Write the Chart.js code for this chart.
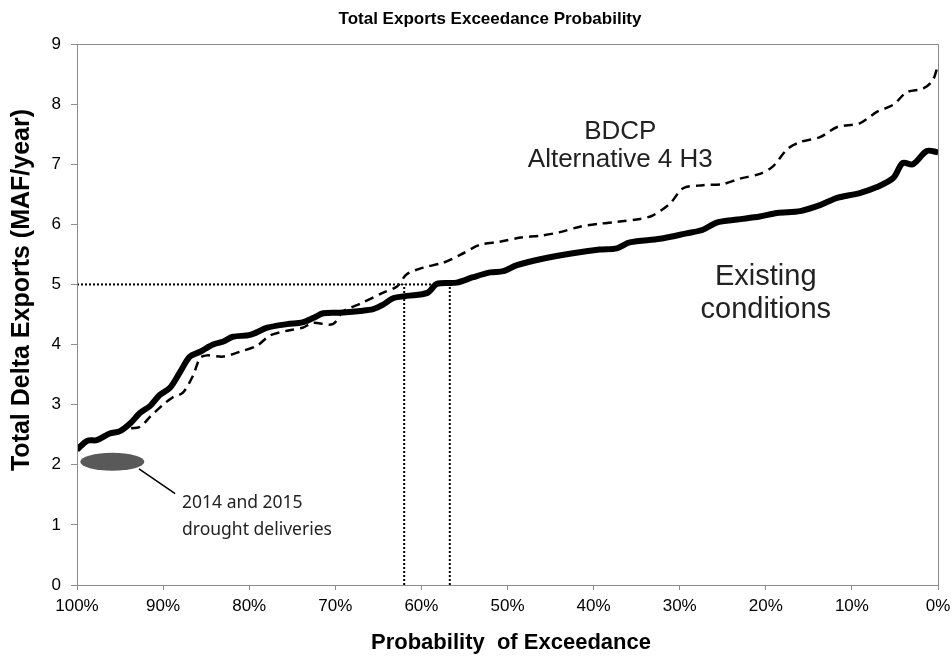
<!DOCTYPE html>
<html>
<head>
<meta charset="utf-8">
<script src="https://cdn.jsdelivr.net/npm/chart.js@4.4.1/dist/chart.umd.min.js"></script>
<style>
  html, body { margin: 0; padding: 0; background: #fff; }
  #wrap { width: 952px; height: 656px; position: relative; }
</style>
</head>
<body>
<div id="wrap"><canvas id="exceedChart"></canvas></div>
<script>
// Exceedance probability (%) and total exports (MAF/year)
const existingPct = [100, 98.8, 97.7, 96.2, 95.0, 93.8, 92.7, 91.5, 90.4, 89.2, 88.0, 86.9, 85.7, 84.2, 83.0, 81.9, 79.9, 77.9, 75.6, 73.8, 72.6, 71.4, 69.5, 67.1, 65.6, 64.5, 63.3, 61.7, 59.3, 58.2, 55.9, 54.0, 52.0, 50.5, 48.9, 46.2, 42.4, 39.3, 37.3, 35.8, 32.3, 29.2, 27.3, 25.7, 23.3, 20.7, 18.7, 16.0, 13.7, 11.7, 9.1, 7.1, 5.2, 4.1, 2.9, 1.3, 0];
const existingVal = [2.25, 2.4, 2.41, 2.52, 2.56, 2.69, 2.86, 2.98, 3.16, 3.28, 3.55, 3.8, 3.88, 4.0, 4.05, 4.13, 4.16, 4.28, 4.34, 4.37, 4.44, 4.52, 4.53, 4.56, 4.59, 4.66, 4.77, 4.81, 4.86, 5.01, 5.03, 5.12, 5.2, 5.22, 5.32, 5.42, 5.52, 5.58, 5.6, 5.7, 5.76, 5.85, 5.91, 6.03, 6.08, 6.13, 6.19, 6.22, 6.32, 6.44, 6.52, 6.62, 6.77, 7.02, 7.0, 7.22, 7.2];

const alt4Pct = [100, 98.8, 97.7, 96.2, 95.0, 94.2, 92.7, 91.5, 90.0, 88.9, 87.7, 86.5, 85.7, 84.9, 83.0, 81.1, 79.1, 77.6, 75.6, 73.8, 72.6, 70.3, 69.1, 67.1, 64.5, 62.8, 61.7, 59.8, 57.5, 55.5, 53.2, 50.9, 48.5, 46.2, 43.9, 41.6, 39.3, 37.3, 34.6, 33.1, 31.1, 29.6, 27.3, 25.0, 23.0, 20.7, 19.2, 17.5, 16.0, 13.7, 11.7, 9.1, 7.1, 5.2, 3.6, 1.7, 0.6, 0];
const alt4Val = [2.25, 2.4, 2.41, 2.52, 2.56, 2.6, 2.63, 2.8, 3.0, 3.12, 3.2, 3.49, 3.78, 3.82, 3.8, 3.88, 3.98, 4.15, 4.23, 4.28, 4.36, 4.34, 4.55, 4.68, 4.86, 4.97, 5.17, 5.28, 5.36, 5.49, 5.66, 5.71, 5.78, 5.81, 5.87, 5.96, 6.01, 6.04, 6.09, 6.15, 6.35, 6.6, 6.65, 6.67, 6.76, 6.84, 6.96, 7.25, 7.37, 7.45, 7.62, 7.68, 7.87, 7.99, 8.2, 8.26, 8.4, 8.65];

// 5 MAF/year reference lines
const guideLevel = 5;
const guidePcts = [62.0, 56.7];

// Axis ticks
const xTicks = [100, 90, 80, 70, 60, 50, 40, 30, 20, 10, 0];
const yTicks = [0, 1, 2, 3, 4, 5, 6, 7, 8, 9];

const FONT = "'Liberation Sans', Arial, sans-serif";
const toPoints = (xs, ys) => xs.map((x, i) => ({ x: x, y: ys[i] }));

// Frame around the plot area, titles and text notes
const notesPlugin = {
  id: "notes",
  afterDraw(chart) {
    const { ctx, chartArea: a, scales } = chart;
    const px = v => scales.x.getPixelForValue(v);
    const py = v => scales.y.getPixelForValue(v);
    ctx.save();

    // box
    ctx.strokeStyle = "#8c8c8c";
    ctx.lineWidth = 1;
    ctx.strokeRect(a.left + 0.5, a.top + 0.5, a.right - a.left, a.bottom - a.top);

    // titles
    ctx.fillStyle = "#000";
    ctx.textAlign = "center";
    ctx.textBaseline = "middle";
    ctx.font = "bold 17px " + FONT;
    ctx.fillText("Total Exports Exceedance Probability", 490, 19);
    ctx.font = "bold 22px " + FONT;
    ctx.fillText("Probability  of Exceedance", 511, 643);
    ctx.save();
    ctx.translate(22, 290);
    ctx.rotate(-Math.PI / 2);
    ctx.font = "bold 25px " + FONT;
    ctx.fillText("Total Delta Exports (MAF/year)", 0, 0);
    ctx.restore();

    // series labels
    ctx.fillStyle = "#222";
    ctx.font = "26px " + FONT;
    ctx.fillText("BDCP", px(36.9), 132);
    ctx.fillText("Alternative 4 H3", px(36.9), 160);
    ctx.font = "29px " + FONT;
    ctx.fillText("Existing", px(20), py(5.12));
    ctx.fillText("conditions", px(20), py(4.57));

    // drought marker
    ctx.fillStyle = "#595959";
    ctx.beginPath();
    ctx.ellipse(px(95.9), py(2.05), 32, 9, 0, 0, Math.PI * 2);
    ctx.fill();
    ctx.strokeStyle = "#000";
    ctx.lineWidth = 1.5;
    ctx.beginPath();
    ctx.moveTo(px(92.8), py(1.93));
    ctx.lineTo(px(88.6), py(1.52));
    ctx.stroke();

    ctx.fillStyle = "#222";
    ctx.textAlign = "left";
    ctx.font = "17.5px 'Noto Sans', 'Open Sans', sans-serif";
    ctx.fillText("2014 and 2015", px(87.8), 503);
    ctx.fillText("drought deliveries", px(87.8), 530);
    ctx.restore();
  },
};

const ctx = document.getElementById("exceedChart").getContext("2d");
new Chart(ctx, {
  type: "line",
  data: {
    datasets: [
      {
        label: "Existing conditions",
        data: toPoints(existingPct, existingVal),
        borderColor: "#000",
        borderWidth: 6,
        pointRadius: 0,
        tension: 0.3,
        order: 1,
      },
      {
        label: "BDCP Alternative 4 H3",
        data: toPoints(alt4Pct, alt4Val),
        borderColor: "#000",
        borderWidth: 2.5,
        borderDash: [9, 6],
        pointRadius: 0,
        tension: 0.3,
        order: 2,
      },
      {
        label: "guide-h",
        data: toPoints([100, guidePcts[1]], [guideLevel, guideLevel]),
        borderColor: "#000",
        borderWidth: 2,
        borderDash: [2, 2],
        pointRadius: 0,
      },
      {
        label: "guide-v1",
        data: toPoints([guidePcts[0], guidePcts[0]], [0, guideLevel]),
        borderColor: "#000",
        borderWidth: 2,
        borderDash: [2, 2],
        pointRadius: 0,
      },
      {
        label: "guide-v2",
        data: toPoints([guidePcts[1], guidePcts[1]], [0, guideLevel]),
        borderColor: "#000",
        borderWidth: 2,
        borderDash: [2, 2],
        pointRadius: 0,
      },
    ],
  },
  options: {
    responsive: true,
    maintainAspectRatio: false,
    animation: false,
    layout: { padding: { top: 44, right: 14, left: 0, bottom: 0 } },
    plugins: {
      legend: { display: false },
      tooltip: { enabled: false },
    },
    scales: {
      x: {
        type: "linear",
        reverse: true,
        min: 0,
        max: 100,
        afterBuildTicks: s => { s.ticks = xTicks.map(v => ({ value: v })); },
        afterFit: s => {
          s.height = 71;
          s.paddingLeft = 0;
          s.paddingRight = 0;
        },
        grid: { drawOnChartArea: false, drawTicks: true, tickLength: 5, color: "#8c8c8c" },
        border: { color: "#8c8c8c" },
        ticks: {
          color: "#000",
          font: { size: 17, family: FONT },
          padding: 6,
          maxRotation: 0,
          callback: v => v + "%",
        },
      },
      y: {
        min: 0,
        max: 9,
        afterBuildTicks: s => { s.ticks = yTicks.map(v => ({ value: v })); },
        afterFit: s => {
          s.width = 77;
          s.paddingTop = 0;
          s.paddingBottom = 0;
        },
        grid: { drawOnChartArea: false, drawTicks: true, tickLength: 6, color: "#8c8c8c" },
        border: { color: "#8c8c8c" },
        ticks: {
          color: "#000",
          font: { size: 17, family: FONT },
          padding: 10,
        },
      },
    },
  },
  plugins: [notesPlugin],
});
</script>
</body>
</html>
